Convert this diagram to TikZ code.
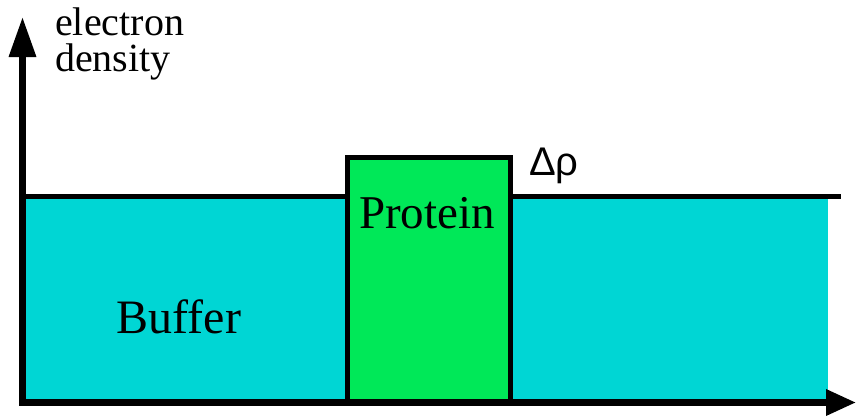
\documentclass[tikz,border=0pt]{standalone}
\usepackage{fontspec}
\setmainfont{Liberation Serif}
\newfontfamily\deltafont{Liberation Sans}
\usepackage{tikz}
\usetikzlibrary{arrows.meta}
\usetikzlibrary{positioning}
\definecolor{buffercyan}{RGB}{0,214,212}
\definecolor{proteingreen}{RGB}{0,232,88}

\begin{document}
\begin{tikzpicture}[x=1pt,y=-1pt]
  \useasboundingbox (0,0) rectangle (856,415);
  \coordinate (origin) at (22.5,402.5);
  \coordinate (ytip) at (22.5,17);
  \coordinate (xtip) at (856,402.5);
  \coordinate (levelL) at (22.5,196.5);
  \coordinate (levelR) at (841,196.5);
  \fill[buffercyan] (26,199) rectangle (828,400);
  \draw[line width=4.5pt](levelL)--(levelR);
  \filldraw[fill=proteingreen,line width=4.5pt] (347.5,402.5) rectangle (510.5,157.5);
  \draw[line width=6.5pt,{Triangle[length=40pt,width=26pt]}-{Triangle[length=30pt,width=25pt]}](ytip)--(origin)--(xtip);
  \node[anchor=base west,align=left,inner sep=0pt,font=\fontsize{40}{36}\selectfont] (label) at (55,71) {electron\\density};
  \node[anchor=base,inner sep=0pt,font=\fontsize{47}{50}\selectfont] (protein) at (427,228) {Protein};
  \node[anchor=base,inner sep=0pt,font=\fontsize{48}{50}\selectfont] (buffer) at (179,333) {Buffer};
  \node[anchor=base west,inner sep=0pt,font=\deltafont\fontsize{40}{44}\selectfont] (delta) at (529,175) {Δρ};
\end{tikzpicture}
\end{document}
